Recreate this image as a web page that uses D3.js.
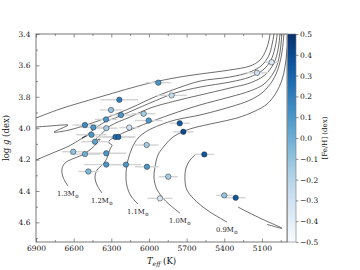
<!DOCTYPE html>
<html>
<head>
<meta charset="utf-8">
<script src="https://cdn.jsdelivr.net/npm/d3@7"></script>
<style>
  body { margin: 0; background: #fff; }
</style>
</head>
<body>
<div id="chart"></div>
<script>
// tick values
var teffTicks = [6900, 6600, 6300, 6000, 5700, 5400, 5100];
var teffMinor = [6750, 6450, 6150, 5850, 5550, 5250, 4950];
var loggTicks = [3.4, 3.6, 3.8, 4.0, 4.2, 4.4, 4.6];
var loggMinor = [3.5, 3.7, 3.9, 4.1, 4.3, 4.5, 4.7];
var fehTicks = [-0.5, -0.4, -0.3, -0.2, -0.1, 0.0, 0.1, 0.2, 0.3, 0.4, 0.5];

// evolutionary tracks [Teff, log g]
var track08 = [[5059, 4.613], [4940, 4.638], [4956, 4.630], [5099, 4.579], [5290, 4.503]];
var track09 = [[5378, 4.598], [5514, 4.534], [5617, 4.471], [5697, 4.394], [5713, 4.330],
               [5705, 4.254], [5673, 4.203], [5633, 4.171]];
var track10 = [[5753, 4.541], [5832, 4.490], [5896, 4.439], [5944, 4.375], [5960, 4.311],
               [5952, 4.248], [5928, 4.171], [5872, 4.107], [5808, 4.056], [5737, 4.025],
               [5649, 3.999], [5474, 3.967], [5298, 3.935], [5155, 3.891], [5059, 3.846],
               [4988, 3.776], [4940, 3.693], [4916, 3.610], [4900, 3.502], [4884, 3.406]];
var track11 = [[6087, 4.483], [6143, 4.432], [6175, 4.369], [6183, 4.292], [6167, 4.203],
               [6135, 4.127], [6087, 4.063], [6016, 4.018], [5912, 3.980], [5792, 3.948],
               [5593, 3.916], [5354, 3.865], [5195, 3.821], [5091, 3.770], [5012, 3.693],
               [4964, 3.604], [4940, 3.515], [4924, 3.400], [4916, 3.343]];
var track12 = [[6374, 4.413], [6414, 4.362], [6430, 4.311], [6414, 4.267], [6374, 4.235],
               [6342, 4.203], [6326, 4.171], [6310, 4.133], [6294, 4.107], [6318, 4.095],
               [6318, 4.082], [6286, 4.063], [6191, 4.025], [5992, 3.961], [5792, 3.903],
               [5593, 3.852], [5354, 3.801], [5195, 3.763], [5083, 3.719], [5004, 3.642],
               [4964, 3.553], [4940, 3.400], [4932, 3.343]];
var track13 = [[6645, 4.369], [6685, 4.311], [6693, 4.260], [6669, 4.222], [6613, 4.197],
               [6533, 4.171], [6462, 4.133], [6414, 4.095], [6390, 4.069], [6430, 4.082],
               [6414, 4.063], [6382, 4.040], [6310, 3.986], [6151, 3.929], [5992, 3.872],
               [5792, 3.827], [5593, 3.789], [5354, 3.744], [5195, 3.712], [5075, 3.661],
               [5004, 3.585], [4972, 3.502], [4956, 3.400], [4948, 3.343]];
var track14 = [[6948, 4.222], [6900, 4.203], [6749, 4.152], [6637, 4.114], [6557, 4.076],
               [6486, 4.044], [6533, 4.063], [6486, 4.037], [6366, 3.967], [6231, 3.923],
               [6103, 3.878], [5992, 3.840], [5792, 3.776], [5593, 3.738], [5354, 3.706],
               [5195, 3.674], [5091, 3.629], [5028, 3.566], [4996, 3.489], [4978, 3.400],
               [4972, 3.343]];
var track15 = [[6948, 3.999], [6900, 3.993], [6788, 3.986], [6693, 3.980], [6645, 3.980],
               [6757, 4.025], [6637, 4.012], [6502, 3.980], [6342, 3.935], [6127, 3.865],
               [5992, 3.814], [5792, 3.751], [5593, 3.700], [5354, 3.674], [5195, 3.642],
               [5099, 3.598], [5043, 3.534], [5020, 3.470], [5004, 3.400], [4996, 3.343]];
var track16 = [[6948, 3.948], [6900, 3.935], [6709, 3.878], [6390, 3.801], [5992, 3.712],
               [5753, 3.674], [5593, 3.655], [5354, 3.629], [5195, 3.604], [5115, 3.566],
               [5067, 3.502], [5043, 3.438], [5035, 3.400], [5028, 3.343]];

var trackMasses = ["0.8", "0.9", "1.0", "1.1", "1.2", "1.3", "1.4", "1.5", "1.6"];
var trackPoints = [track08, track09, track10, track11, track12, track13, track14, track15, track16];
var labelledMasses = ["0.9", "1.0", "1.1", "1.2", "1.3"];

// stars
var starTeff = [5925, 5819, 6236, 6302, 6223, 6342, 6042, 6002, 6510, 6443,
                6340, 6157, 5755, 5726, 6458, 6267, 6244, 6430, 6603, 6510,
                6340, 6018, 6340, 6183, 6016, 6483, 5846, 5912, 5559, 5400,
                5309, 5022, 5139];
var starLogg = [3.710, 3.791, 3.819, 3.884, 3.916, 3.944, 3.908, 3.951, 3.980, 3.995,
                4.000, 3.996, 3.969, 4.023, 4.042, 4.056, 4.056, 4.086, 4.150, 4.165,
                4.160, 4.107, 4.232, 4.232, 4.246, 4.276, 4.309, 4.447, 4.167, 4.428,
                4.443, 3.580, 3.647];
var starTeffErr = [100, 120, 150, 90, 90, 90, 95, 110, 100, 105,
                   90, 80, 80, 80, 120, 160, 120, 110, 90, 120,
                   160, 95, 180, 120, 95, 80, 75, 100, 80, 65,
                   80, 50, 90];
var starFeH = [0.10, -0.25, 0.20, -0.10, 0.10, 0.10, -0.15, 0.10, 0.15, 0.10,
               -0.15, -0.30, 0.35, 0.40, 0.10, 0.25, 0.30, 0.05, -0.10, 0.00,
               0.10, -0.15, 0.10, 0.10, 0.10, -0.05, -0.15, -0.35, 0.35, -0.10,
               0.35, -0.35, -0.30];

(function () {
    var W = 360, H = 270;
    var margin = {top: 34, left: 36, right: 73, bottom: 28};
    var width = W - margin.left - margin.right,
        height = H - margin.top - margin.bottom;
    var font = "'DejaVu Serif', serif";

    var svg = d3.select("#chart").append("svg")
        .attr("width", W).attr("height", H)
        .style("background", "#fff");

    var x = d3.scaleLinear().domain([6900, 4900]).range([0, width]);
    var y = d3.scaleLinear().domain([3.4, 4.725]).range([0, height]);
    var fehScale = d3.scaleLinear().domain([-0.5, 0.5]).range([height, 0]);
    var color = function (v) { return d3.interpolateBlues((v + 0.5) / 1.0); };

    svg.append("defs").append("clipPath").attr("id", "plotclip")
        .append("rect").attr("width", width).attr("height", height);

    var g = svg.append("g")
        .attr("transform", "translate(" + margin.left + "," + margin.top + ")");

    // tracks
    var line = d3.line()
        .x(function (d) { return x(d[0]); })
        .y(function (d) { return y(d[1]); })
        .curve(d3.curveCatmullRom.alpha(0.5));

    var plot = g.append("g").attr("clip-path", "url(#plotclip)");

    plot.selectAll(".track")
        .data(trackPoints)
        .enter().append("path")
        .attr("class", "track")
        .attr("d", line)
        .attr("fill", "none")
        .attr("stroke", "#2e2e2e")
        .attr("stroke-width", 0.7);

    // error bars
    plot.selectAll(".ebar")
        .data(starTeff)
        .enter().append("line")
        .attr("class", "ebar")
        .attr("x1", function (d, i) { return x(d - starTeffErr[i]); })
        .attr("x2", function (d, i) { return x(d + starTeffErr[i]); })
        .attr("y1", function (d, i) { return y(starLogg[i]); })
        .attr("y2", function (d, i) { return y(starLogg[i]); })
        .attr("stroke", "#d3d3d3")
        .attr("stroke-width", 1.4);

    // stars
    plot.selectAll(".star")
        .data(starTeff)
        .enter().append("circle")
        .attr("class", "star")
        .attr("cx", function (d) { return x(d); })
        .attr("cy", function (d, i) { return y(starLogg[i]); })
        .attr("r", 2.7)
        .attr("fill", function (d, i) { return color(starFeH[i]); })
        .attr("stroke", "#2b2b2b")
        .attr("stroke-width", 0.5);

    // mass labels near the ZAMS end of each track
    trackMasses.forEach(function (m, i) {
        if (labelledMasses.indexOf(m) < 0) return;
        var p = trackPoints[i][0];
        var t = g.append("text")
            .attr("x", x(p[0]) - 11)
            .attr("y", y(p[1]) + 10)
            .style("font-family", font)
            .style("font-size", "6.8px")
            .style("fill", "#222")
            .text(m + "M");
        t.append("tspan").attr("dy", 1.5).style("font-size", "5px").text("\u2299");
    });

    // axes
    function styleAxis(sel) {
        sel.select(".domain").remove();
        sel.selectAll("line").attr("stroke", "#444").attr("stroke-width", 0.6);
        sel.selectAll("text").style("font-family", font).style("font-size", "7.5px").style("fill", "#111");
    }

    g.append("g").attr("transform", "translate(0," + height + ")")
        .call(d3.axisBottom(x).tickValues(teffTicks).tickSize(-3.5).tickPadding(3.5).tickFormat(d3.format("d")))
        .call(styleAxis);
    g.append("g").attr("transform", "translate(0," + height + ")")
        .call(d3.axisBottom(x).tickValues(teffMinor).tickSize(-2).tickFormat(""))
        .call(styleAxis);
    g.append("g")
        .call(d3.axisTop(x).tickValues(teffTicks).tickSize(-3.5).tickFormat(""))
        .call(styleAxis);
    g.append("g")
        .call(d3.axisTop(x).tickValues(teffMinor).tickSize(-2).tickFormat(""))
        .call(styleAxis);
    g.append("g")
        .call(d3.axisLeft(y).tickValues(loggTicks).tickSize(-3.5).tickPadding(5.5).tickFormat(d3.format(".1f")))
        .call(styleAxis);
    g.append("g")
        .call(d3.axisLeft(y).tickValues(loggMinor.filter(function (v) { return v <= 4.725; })).tickSize(-2).tickFormat(""))
        .call(styleAxis);

    // frame
    g.append("rect")
        .attr("width", width).attr("height", height)
        .attr("fill", "none").attr("stroke", "#555").attr("stroke-width", 0.8);

    // colorbar
    var cbX = width + 0.6, cbW = 8.4;
    var grad = svg.select("defs").append("linearGradient")
        .attr("id", "cbgrad").attr("x1", 0).attr("y1", 1).attr("x2", 0).attr("y2", 0);
    d3.range(0, 1.0001, 0.05).forEach(function (t) {
        grad.append("stop").attr("offset", t).attr("stop-color", d3.interpolateBlues(t));
    });
    g.append("rect")
        .attr("x", cbX).attr("y", 0).attr("width", cbW).attr("height", height)
        .attr("fill", "url(#cbgrad)")
        .attr("stroke", "#777").attr("stroke-width", 0.6);

    g.append("g").attr("transform", "translate(" + (cbX + cbW) + ",0)")
        .call(d3.axisRight(fehScale).tickValues(fehTicks).tickSize(2.5).tickPadding(1.5).tickFormat(d3.format(".1f")))
        .call(styleAxis);

    // axis titles
    var yl = svg.append("text")
        .attr("transform", "translate(9," + (margin.top + height / 2) + ") rotate(-90)")
        .attr("text-anchor", "middle")
        .style("font-family", font).style("font-size", "8.5px").style("fill", "#111");
    yl.append("tspan").text("log ");
    yl.append("tspan").style("font-style", "italic").text("g");
    yl.append("tspan").text(" (dex)");

    var xl = svg.append("text")
        .attr("x", margin.left + width / 2).attr("y", 264)
        .attr("text-anchor", "middle")
        .style("font-family", font).style("font-size", "8.5px").style("fill", "#111");
    xl.append("tspan").style("font-style", "italic").text("T");
    xl.append("tspan").attr("dy", 1.8).style("font-size", "6px").style("font-style", "italic").text("eff");
    xl.append("tspan").attr("dy", -1.8).text(" (K)");

    svg.append("text")
        .attr("transform", "translate(327," + (margin.top + height / 2) + ") rotate(-90)")
        .attr("text-anchor", "middle")
        .style("font-family", font).style("font-size", "7px").style("fill", "#111")
        .text("[Fe/H] (dex)");
})();
</script>
</body>
</html>
